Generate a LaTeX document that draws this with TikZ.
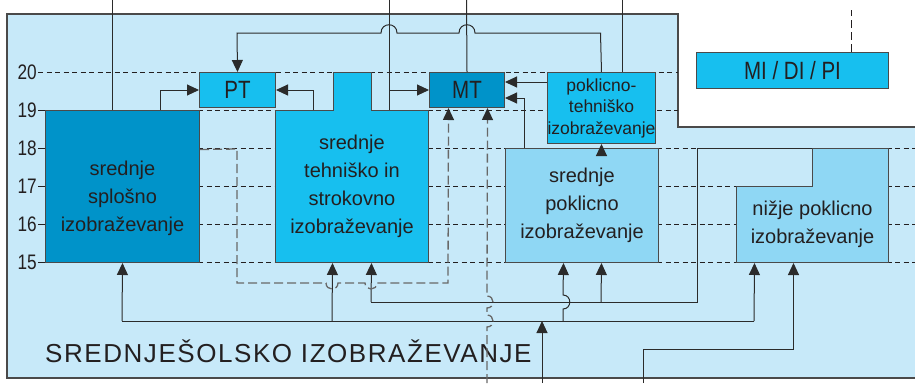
\documentclass[tikz,border=0pt]{standalone}
\usepackage{fontspec}
\setmainfont{Liberation Sans}
\newfontfamily\narrowsans{Liberation Sans}[FakeStretch=0.82]
\newfontfamily\spacedsans{Liberation Sans}[LetterSpace=6]
\usetikzlibrary{positioning,arrows.meta,calc}
\definecolor{sheet}{HTML}{C7E9F9}
\definecolor{deepbox}{HTML}{0093C9}
\definecolor{cyanbox}{HTML}{17BFEF}
\definecolor{palebox}{HTML}{8FD7F4}
\definecolor{ink}{HTML}{231F20}
\definecolor{cable}{HTML}{2B2B2B}
\definecolor{frame}{HTML}{4A4A4A}
\definecolor{dashgray}{HTML}{686868}

\tikzset{
  blk/.style={draw=frame,line width=1pt,inner sep=0pt,anchor=north west,text=ink,align=center,
    font=\fontsize{20}{28}\selectfont},
  tag/.style={blk,font=\narrowsans\fontsize{25}{25}\selectfont},
  level/.style={ink,line width=0.9pt,dash pattern=on 5pt off 3.5pt},
  link/.style={cable,line width=1pt},
  arr/.style={link,-{Triangle[length=12pt,width=11pt]}},
  dline/.style={dashgray,line width=1.3pt,dash pattern=on 9pt off 4pt,
    -{Triangle[length=12pt,width=11pt,color=cable]}},
}

\begin{document}
\begin{tikzpicture}[x=1pt,y=-1pt]
  \useasboundingbox (0,0) rectangle (915,383);
  % sheet with the cut-out corner
  \fill[sheet] (7,14) -- (678,14) -- (678,127) -- (915,127) -- (915,378) -- (7,378) -- cycle;
  \draw[frame,line width=1.3pt] (915,127) -- (678,127) -- (678,14) -- (7,14) -- (7,378) -- (915,378);

  % age levels
  \draw[level] (38,72) -- (678,72);
  \draw[level] (45,110) -- (678,110);
  \foreach \yy in {148,186,224,262}
    \draw[level] (45,\yy) -- (915,\yy);
  \foreach \yy in {110,148,186,224,262}
    \draw[ink,line width=0.9pt] (38,\yy) -- (45,\yy);
  \foreach \lev [count=\k from 0] in {20,19,18,17,16,15}
    \node[anchor=east,inner sep=0pt,text=ink,font=\narrowsans\fontsize{21}{21}\selectfont] (lev\lev) at (37,72+38*\k) {\lev};

  % boxes
  \node[blk,fill=deepbox,minimum width=154,minimum height=152,
    label={[text=ink,align=center,font=\fontsize{20}{28}\selectfont,yshift=-12pt]center:srednje\\splošno\\izobraževanje}] (ssi) at (45,110) {};
  \node[tag,fill=cyanbox,minimum width=76,minimum height=35] (pt) at (199,72) {PT};
  \node[blk,fill=cyanbox,minimum width=153,minimum height=152] (sti) at (275,110) {srednje\\tehniško in\\strokovno\\izobraževanje};
  \fill[cyanbox] (333,72) rectangle (371,111);
  \draw[frame,line width=1pt] (333,110.5) -- (333,72) -- (371,72) -- (371,110.5);
  \node[tag,fill=deepbox,minimum width=75,minimum height=35] (mt) at (429,72) {MT};
  \node[blk,fill=cyanbox,minimum width=107,minimum height=71,font=\fontsize{17.5}{21.5}\selectfont] (pti) at (547,72) {poklicno-\\tehniško\\izobraževanje};
  \node[blk,fill=palebox,minimum width=153,minimum height=114] (spi) at (505,148) {srednje\\poklicno\\izobraževanje};
  \node[blk,fill=palebox,minimum width=152,minimum height=76] (npi) at (736,186) {nižje poklicno\\izobraževanje};
  \fill[palebox] (812,148) rectangle (888,187);
  \draw[frame,line width=1pt] (812,186.5) -- (812,148) -- (888,148) -- (888,186.5);
  \coordinate (npitab) at (812,148);
  \node[tag,fill=cyanbox,minimum width=192,minimum height=36] (midipi) at (696,52) {MI / DI / PI};
  \draw[ink,line width=1pt,dash pattern=on 8pt off 4pt] ([xshift=59pt]midipi.north) -- ++(0,-42);
  \node[anchor=west,inner sep=0pt,text=ink,font=\spacedsans\fontsize{26}{26}\selectfont] (title) at (45,351) {SREDNJEŠOLSKO IZOBRAŽEVANJE};

  % lines coming in from outside
  \coordinate (topA) at (112,0);
  \coordinate (topB) at (389,0);
  \coordinate (topC) at (466.5,0);
  \coordinate (topD) at (622,0);
  \coordinate (botA) at (542,383);
  \coordinate (botB) at (643,383);
  \coordinate (botC) at (487,383);

  % upper connectors
  \draw[link] (topA) -- (topA |- ssi.north);
  \draw[arr] ([xshift=38pt]ssi.north) |- (pt.west);
  \draw[arr] ([xshift=-38.5pt]sti.north) |- (pt.east);
  \draw[link] (topB) -- (topB |- sti.north);
  \draw[arr] (topB |- mt.west) -- (mt.west);
  \draw[link] (topC) -- (mt.north);
  \draw[link] (topD) -- (topD |- pti.north);
  \draw[arr] (pti.north) -- (600.5,33) -- (475,33) .. controls (475,22) and (459,22) .. (459,33)
    -- (397,33) .. controls (397,22) and (381,22) .. (381,33) -- (237,33) -- (pt.north);
  \coordinate (mtR1) at ([yshift=8pt]mt.east);
  \coordinate (mtR2) at ([yshift=-8pt]mt.east);
  \draw[arr] (mtR1 -| pti.west) -- (mtR1);
  \draw[arr] ([xshift=-57.5pt]spi.north) |- (mtR2);
  \draw[arr] (spi.north -| pti.south) -- (pti.south);

  % from nizje poklicno back up
  \draw[link] (npitab) -| (697,302) -- (371,302);
  \draw[arr] (371,302) -- ([xshift=19.5pt]sti.south);
  \draw[arr] (601,302) -- ([xshift=19.5pt]spi.south);

  % entry from below
  \draw[arr] (botA) -- (542,321);
  \draw[link] (122,321) -- (754,321);
  \draw[arr] (122,321) -- (ssi.south);
  \draw[arr] (332,321) -- ([xshift=-19.5pt]sti.south);
  \draw[arr] (563,321) -- (563,309) .. controls (572,309) and (572,295) .. (563,295) -- ([xshift=-18.5pt]spi.south);
  \draw[arr] (754,321) -- ([xshift=-58pt]npi.south);
  \draw[arr] (botB) -- (643,349) -| ([xshift=-19pt]npi.south);

  % dashed routes to MT
  \draw[dline] ([yshift=37pt]ssi.east) -- (237,149) -- (237,283) -- (326,283)
    .. controls (326,291) and (338,291) .. (338,283) -- (365,283)
    .. controls (365,291) and (377,291) .. (377,283) -- (448,283) -- ([xshift=-18.5pt]mt.south);
  \draw[dline] (botC) -- (487,327) .. controls (495,327) and (495,315) .. (487,315) -- (487,308)
    .. controls (495,308) and (495,296) .. (487,296) -- ([xshift=20.5pt]mt.south);
\end{tikzpicture}
\end{document}
